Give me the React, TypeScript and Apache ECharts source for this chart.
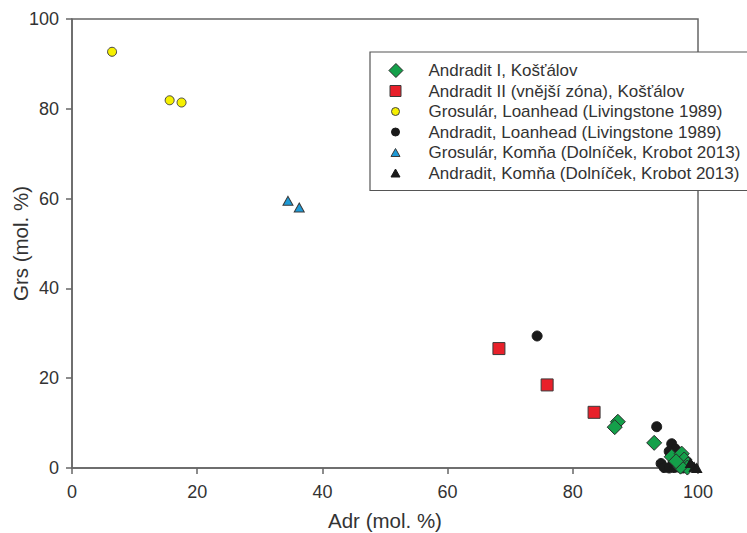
import React, { useEffect, useRef } from "react";
import * as echarts from "echarts";

// ---- data (Adr mol. %, Grs mol. %) ----
const andraditI_Kostalov: number[][] = [
  [87.2, 10.3], [86.7, 9.1], [93.0, 5.6], [95.8, 2.5], [97.4, 3.2],
  [97.8, 1.9], [98.4, 0.8], [98.3, 0.1], [97.2, 0.3], [96.5, 1.5],
];
const andraditII_Kostalov: number[][] = [
  [68.2, 26.6], [75.9, 18.5], [83.4, 12.4],
];
const grosular_Loanhead: number[][] = [
  [6.4, 92.7], [15.6, 81.9], [17.5, 81.4],
];
const andradit_Loanhead: number[][] = [
  [74.3, 29.4], [93.4, 9.2], [95.8, 5.4], [96.4, 4.2], [95.4, 3.7],
  [96.6, 2.6], [94.1, 1.0], [94.6, 0.1], [95.4, 0.0], [96.2, 0.1],
  [96.9, 0.2], [97.6, 0.0], [96.0, 1.1],
];
const grosular_Komna: number[][] = [
  [34.5, 59.5], [36.3, 58.0],
];
const andradit_Komna: number[][] = [
  [99.4, 0.2], [98.8, 1.1], [99.8, 0.0],
];

const seriesNames = [
  "Andradit I, Košťálov",
  "Andradit II (vnější zóna), Košťálov",
  "Grosulár, Loanhead (Livingstone 1989)",
  "Andradit, Loanhead (Livingstone 1989)",
  "Grosulár, Komňa (Dolníček, Krobot 2013)",
  "Andradit, Komňa (Dolníček, Krobot 2013)",
];

const xTicks = [0, 20, 40, 60, 80, 100];
const yTicks = [0, 20, 40, 60, 80, 100];

// legend icons: 43x14 box, shape centred at (15,7)
const box = "M0 0 M43 14 ";
const iconDiamond = "path://" + box + "M15 -0.5 L22.5 7 L15 14.5 L7.5 7 Z";
const iconSquare = "path://" + box + "M9.5 1.5 L20.5 1.5 L20.5 12.5 L9.5 12.5 Z";
const iconCircle = "path://" + box + "M11 7 A4 4 0 1 0 19 7 A4 4 0 1 0 11 7 Z";
const iconTriangle = "path://" + box + "M15 3 L19.5 11 L10.5 11 Z";

export default function App() {
  const ref = useRef<HTMLDivElement>(null);

  useEffect(() => {
    if (!ref.current) return;
    const chart = echarts.init(ref.current, null, { renderer: "svg" });
    const font = "Liberation Sans, Arial, sans-serif";
    const styles = [
      { symbol: "diamond", size: [15, 15], color: "#14a04a", border: "#2a2a2a", icon: iconDiamond, z: 4 },
      { symbol: "rect", size: [12, 12], color: "#e8202a", border: "#3a3a3a", icon: iconSquare, z: 3 },
      { symbol: "circle", size: [9, 9], color: "#f6f000", border: "#444", icon: iconCircle, z: 3 },
      { symbol: "circle", size: [10, 10], color: "#1a1a1a", border: "#1a1a1a", icon: iconCircle, z: 2 },
      { symbol: "triangle", size: [10, 9], color: "#1e9ad6", border: "#3a3a3a", icon: iconTriangle, z: 3 },
      { symbol: "triangle", size: [10, 9], color: "#1a1a1a", border: "#1a1a1a", icon: iconTriangle, z: 5 },
    ];
    const datasets = [
      andraditI_Kostalov, andraditII_Kostalov, grosular_Loanhead,
      andradit_Loanhead, grosular_Komna, andradit_Komna,
    ];

    chart.setOption({
      animation: false,
      backgroundColor: "#ffffff",
      textStyle: { fontFamily: font },
      grid: {
        left: 72, right: 49, top: 19, bottom: 65,
        outerBoundsMode: "none",
        containLabel: false,
        show: true, borderColor: "#666", borderWidth: 1.5,
      },
      legend: {
        orient: "vertical",
        left: 370,
        top: 52,
        padding: [10, 30, 9, 10],
        itemWidth: 43,
        itemHeight: 14,
        itemGap: 3.5,
        borderColor: "#555",
        borderWidth: 1.2,
        backgroundColor: "#fff",
        textStyle: { fontSize: 17, color: "#333", fontFamily: font, padding: [0, 0, 0, 0] },
        data: seriesNames.map((n, i) => ({
          name: n,
          icon: styles[i].icon,
          itemStyle: { color: styles[i].color, borderColor: styles[i].border, borderWidth: 1 },
        })),
      },
      xAxis: {
        type: "value",
        min: 0, max: 100, interval: 20,
        name: "Adr (mol. %)",
        nameLocation: "middle",
        nameGap: 42,
        nameMoveOverlap: false,
        nameTextStyle: { fontSize: 20.5, color: "#333", fontFamily: font },
        axisLine: { show: true, onZero: false, lineStyle: { color: "#666", width: 1.5 } },
        axisTick: { show: true, inside: false, length: 6, lineStyle: { color: "#666", width: 1.5 } },
        axisLabel: {
          fontSize: 18, color: "#333", margin: 15, fontFamily: font,
          formatter: (v: number) => (xTicks.includes(v) ? String(v) : ""),
        },
        splitLine: { show: false },
      },
      yAxis: {
        type: "value",
        min: 0, max: 100, interval: 20,
        name: "Grs (mol. %)",
        nameLocation: "middle",
        nameGap: 41,
        nameMoveOverlap: false,
        nameTextStyle: { fontSize: 20.5, color: "#333", fontFamily: font },
        axisLine: { show: true, onZero: false, lineStyle: { color: "#666", width: 1.5 } },
        axisTick: { show: true, inside: false, length: 6, lineStyle: { color: "#666", width: 1.5 } },
        axisLabel: {
          fontSize: 18, color: "#333", margin: 13, fontFamily: font,
          formatter: (v: number) => (yTicks.includes(v) ? String(v) : ""),
        },
        splitLine: { show: false },
      },
      series: datasets.map((d, i) => ({
        name: seriesNames[i],
        type: "scatter",
        data: d,
        symbol: styles[i].symbol,
        symbolSize: styles[i].size,
        z: styles[i].z,
        clip: false,
        itemStyle: {
          color: styles[i].color,
          borderColor: styles[i].border,
          borderWidth: 1,
          opacity: 1,
        },
        emphasis: { disabled: true },
      })),
    });

    return () => chart.dispose();
  }, []);

  return <div ref={ref} style={{ width: 747, height: 533, position: "absolute", left: 0, top: 0 }} />;
}
